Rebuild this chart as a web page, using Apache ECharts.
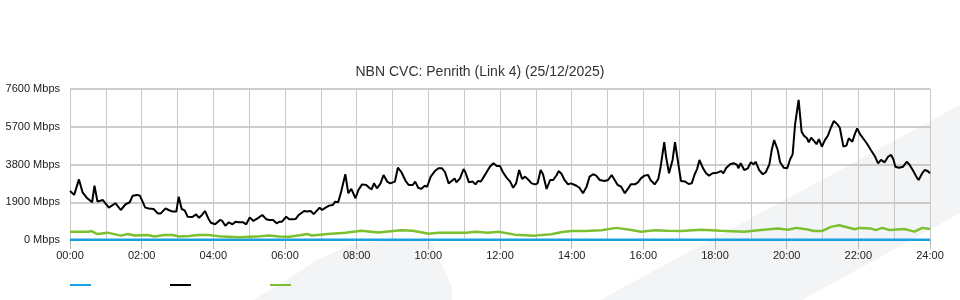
<!DOCTYPE html>
<html>
<head>
<meta charset="utf-8">
<script src="https://cdn.jsdelivr.net/npm/echarts@6/dist/echarts.min.js"></script>
<style>html,body{margin:0;padding:0;background:#fff}#c{width:960px;height:300px}</style>
</head>
<body>
<div id="c"></div>
<script>
var titleText = 'NBN CVC: Penrith (Link 4) (25/12/2025)';
var seriesNames = ['Series A', 'Series B', 'Series C'];
var yTicks = [0, 1900, 3800, 5700, 7600];

// Blue line (flat, near zero) — minutes since midnight / Mbps
var blueMinutes = [0, 360, 720, 1080, 1440];
var blueValues  = [15, 15, 15, 15, 15];

// Black line — minutes since midnight / Mbps
var blackMinutes = [0,7,15,21,28,37,41,46,55,65,76,85,93,100,105,113,117,126,132,140,147,152,160,165,172,178,182,187,192,197,205,211,216,221,226,232,236,243,251,255,260,266,272,277,283,290,295,301,307,314,322,328,333,340,346,351,355,362,367,373,378,383,392,397,403,408,411,418,422,428,434,440,444,449,454,461,466,471,478,483,489,496,501,505,509,514,520,525,531,536,544,549,555,562,567,574,578,583,588,594,598,604,611,617,623,628,634,639,644,647,653,659,662,668,674,679,683,688,692,698,703,709,715,720,725,731,737,742,747,752,757,762,767,773,779,783,788,792,798,804,809,815,818,823,828,834,839,848,853,859,865,870,876,881,887,895,901,907,912,917,923,929,934,939,946,951,956,962,968,972,979,985,989,995,998,1003,1009,1013,1018,1023,1030,1036,1041,1046,1050,1054,1060,1065,1070,1076,1084,1090,1094,1099,1106,1112,1117,1119,1123,1129,1135,1140,1145,1148,1154,1160,1165,1171,1175,1179,1185,1189,1195,1201,1206,1210,1214,1220,1225,1229,1234,1237,1241,1246,1250,1254,1259,1264,1269,1274,1279,1285,1289,1295,1300,1304,1310,1314,1318,1323,1328,1334,1341,1348,1353,1358,1364,1370,1375,1379,1382,1388,1395,1401,1406,1412,1418,1421,1427,1431,1436,1440];
var blackValues = [2470,2270,3050,2400,2130,1900,2730,1930,2010,1630,1850,1510,1800,1900,2230,2270,2230,1630,1590,1560,1340,1340,1590,1510,1430,1430,2180,1560,1490,1170,1160,1290,1120,1260,1460,1060,870,790,1010,960,720,890,790,920,890,890,790,1140,960,1090,1260,1060,1010,1010,840,920,920,1170,1040,1040,1060,1260,1460,1430,1460,1300,1390,1630,1510,1630,1730,1760,1930,1900,2430,3310,2350,2570,2100,2520,2800,2770,2630,2550,2850,2600,2850,3270,2940,2850,2940,3640,3410,2970,2770,2770,2940,2630,2570,2730,2680,3190,3470,3610,3610,3410,2850,2970,3100,2900,3100,3570,3410,2900,2940,2800,2970,2940,3140,3440,3690,3860,3720,3720,3410,3140,2940,2630,2850,3520,3070,3190,3050,2850,2800,2850,3520,3310,2570,3020,3020,3270,3470,3330,3020,2800,2850,2730,2630,2350,2680,3190,3310,3240,3020,2970,3020,3270,3020,2770,2680,2350,2570,2800,2800,2900,3100,3240,3270,3020,2800,3070,3690,4920,4200,3360,4030,4920,3940,2970,2940,2820,2850,3310,3570,4030,3610,3360,3240,3360,3390,3470,3360,3640,3830,3860,3780,3610,3860,3520,3610,3910,3810,3940,3520,3310,3410,3810,4530,5030,4530,3910,3640,3610,4080,4310,5790,7050,5450,5250,5120,4920,5150,4980,4820,5080,4700,5030,5250,5650,5990,5820,5650,4700,4750,5120,4950,5320,5620,5320,5120,4870,4530,4200,3860,4030,3910,4200,4280,4030,3690,3640,3690,3940,3780,3470,3140,3020,3360,3520,3470,3360];

// Green line — minutes since midnight / Mbps
var greenMinutes = [0,15,32,36,46,63,85,97,108,130,141,158,172,183,199,215,232,255,283,312,333,350,367,385,397,405,432,461,488,516,554,574,601,617,640,664,678,700,717,745,778,806,824,840,862,890,915,940,956,979,1000,1023,1057,1090,1129,1157,1185,1202,1216,1235,1246,1259,1274,1288,1314,1322,1341,1349,1360,1372,1397,1414,1427,1440];
var greenValues  = [420,420,420,450,300,370,220,300,230,250,180,250,250,180,200,250,250,170,140,170,230,180,160,240,300,230,300,370,470,380,490,470,310,370,370,370,420,360,420,270,220,290,400,450,450,490,610,500,420,490,470,450,520,470,420,500,580,520,610,530,450,450,660,740,540,610,580,500,610,500,550,420,610,550];

function zip(xs, ys) { return xs.map(function (x, i) { return [x, ys[i]]; }); }
function hhmm(m) { var h = Math.round(m / 60); return (h < 10 ? '0' : '') + h + ':00'; }

var chart = echarts.init(document.getElementById('c'), null, { renderer: 'canvas' });
var font = 'Liberation Sans, Arial, Helvetica, sans-serif';
var wm = '#f3f4f6';
chart.setOption({
  animation: false,
  backgroundColor: '#ffffff',
  textStyle: { fontFamily: font },
  graphic: { elements: [
    { type: 'polygon', z: -10, silent: true,
      shape: { points: [[253,300],[287,280],[317,260],[350,245],[385,240],[430,240],[452,287],[452,300]] },
      style: { fill: wm } },
    { type: 'polygon', z: -10, silent: true,
      shape: { points: [[600,300],[960,105],[960,213],[802,300]] },
      style: { fill: wm } }
  ]},
  title: {
    text: titleText, left: 'center', top: 60,
    textStyle: { fontFamily: font, fontSize: 14, fontWeight: 'normal', color: '#333' }
  },
  legend: {
    left: 65, top: 279, icon: 'rect', itemWidth: 21, itemHeight: 2, itemGap: 79,
    formatter: function () { return ''; },
    data: seriesNames, selectedMode: false
  },
  grid: { left: 70, right: 30, top: 89, bottom: 60, containLabel: false },
  xAxis: {
    type: 'value', min: 0, max: 1440, interval: 120,
    axisLine: { show: true, lineStyle: { color: '#c8c8c8' } },
    axisTick: { show: true, length: 9, lineStyle: { color: '#b8b8b8' } },
    axisLabel: { formatter: hhmm, fontSize: 11, color: '#222', margin: 10, fontFamily: font },
    splitLine: { show: true, lineStyle: { color: '#c8c8c8', width: 1 } },
    minorTick: { show: false, splitNumber: 2 },
    minorSplitLine: { show: true, lineStyle: { color: '#c8c8c8', width: 1 } }
  },
  yAxis: {
    type: 'value', min: yTicks[0], max: yTicks[yTicks.length - 1], interval: yTicks[1] - yTicks[0],
    axisLine: { show: false }, axisTick: { show: false },
    axisLabel: { formatter: function (v) { return v + ' Mbps'; }, fontSize: 11, color: '#222', margin: 10, fontFamily: font, padding: [0,0,3,0] },
    splitLine: { show: true, lineStyle: { color: '#bdbdbd', width: 1.5 } }
  },
  series: [
    { name: seriesNames[0], type: 'line', data: zip(blueMinutes, blueValues), showSymbol: false, symbol: 'none',
      lineStyle: { color: '#1a9fe0', width: 2.5 }, itemStyle: { color: '#1a9fe0' }, z: 3 },
    { name: seriesNames[1], type: 'line', data: zip(blackMinutes, blackValues), showSymbol: false, symbol: 'none',
      lineStyle: { color: '#000000', width: 2 }, itemStyle: { color: '#000000' }, z: 4 },
    { name: seriesNames[2], type: 'line', data: zip(greenMinutes, greenValues), showSymbol: false, symbol: 'none',
      lineStyle: { color: '#7cbf2f', width: 2.5 }, itemStyle: { color: '#7cbf2f' }, z: 3 }
  ]
});
</script>
</body>
</html>
